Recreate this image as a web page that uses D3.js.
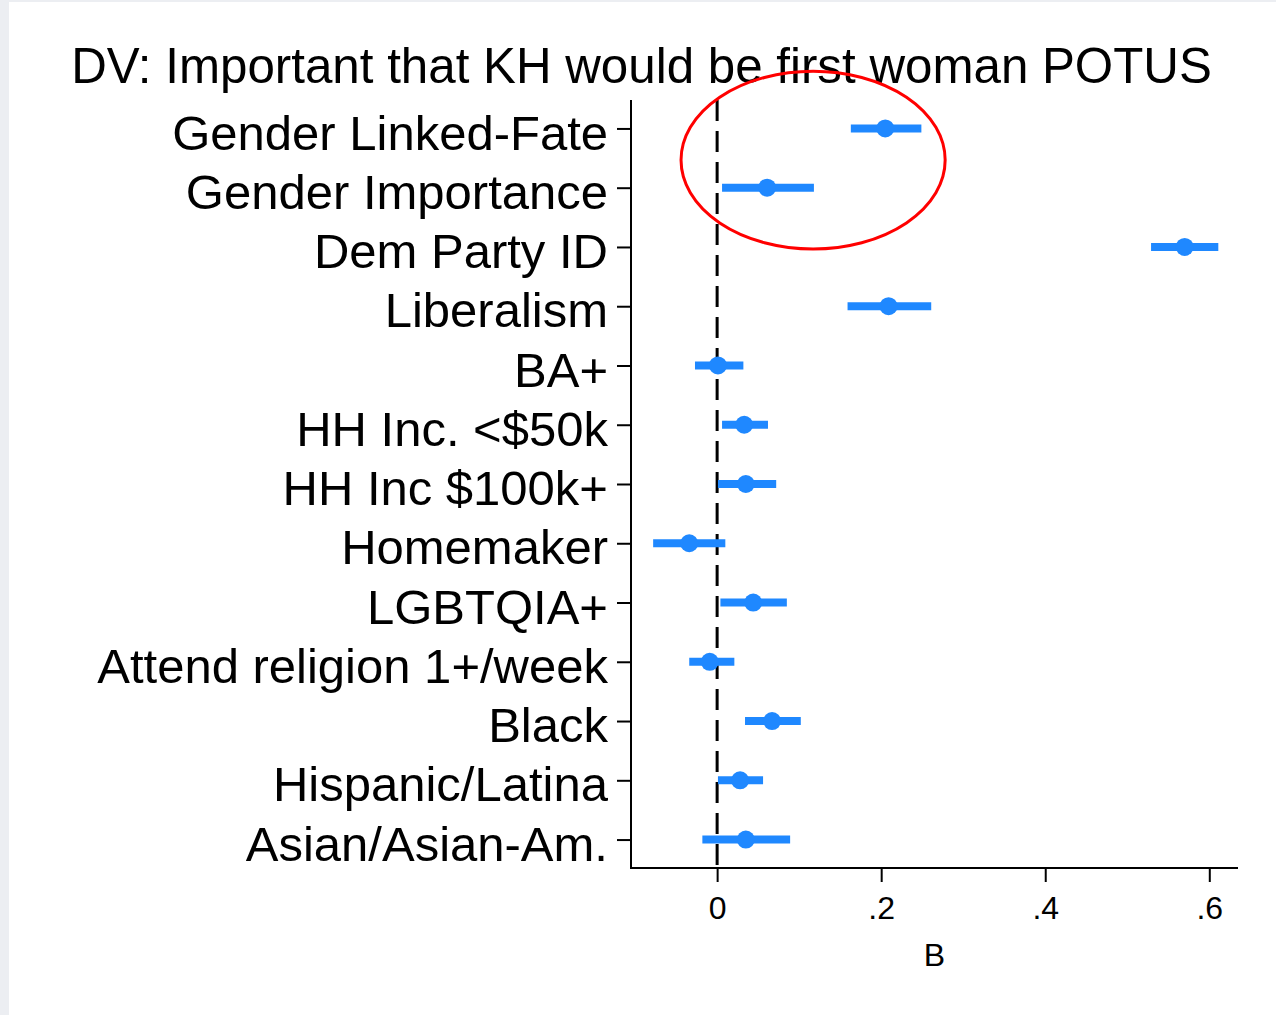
<!DOCTYPE html>
<html>
<head>
<meta charset="utf-8">
<script src="https://cdn.jsdelivr.net/npm/d3@7"></script>
<style>
  html, body { margin: 0; padding: 0; background: #eceef2; }
  #chart { position: absolute; left: 9px; top: 2px; width: 1267px; height: 1013px; background: #fff; }
  svg { position: absolute; left: -9px; top: -2px; }
  text { font-family: "Liberation Sans", Arial, Helvetica, sans-serif; fill: #000; }
</style>
</head>
<body>
<div id="chart"></div>
<script>
// coefficient estimates and 95% CIs, top to bottom
var categories = ["Gender Linked-Fate", "Gender Importance", "Dem Party ID", "Liberalism", "BA+",
  "HH Inc. <$50k", "HH Inc $100k+", "Homemaker", "LGBTQIA+", "Attend religion 1+/week",
  "Black", "Hispanic/Latina", "Asian/Asian-Am."];
var estimates = [0.205, 0.061, 0.570, 0.209, 0.001, 0.033, 0.035, -0.034, 0.044, -0.009, 0.067, 0.028, 0.035];
var ciLow  = [0.163, 0.006, 0.529, 0.159, -0.027, 0.006, 0.001, -0.078, 0.004, -0.034, 0.034, 0.001, -0.018];
var ciHigh = [0.249, 0.118, 0.611, 0.261, 0.032, 0.062, 0.072, 0.010, 0.085, 0.021, 0.102, 0.056, 0.089];
var xTicks = [0, 0.2, 0.4, 0.6];
var xTickLabels = ["0", ".2", ".4", ".6"];

var titleText = "DV: Important that KH would be first woman POTUS";
var xTitle = "B";

var data = categories.map(function(c, i) {
  return { name: c, b: estimates[i], lo: ciLow[i], hi: ciHigh[i] };
});

var W = 1276, H = 1015;
var plot = { left: 631, right: 1238, top: 100, bottom: 868 };
var blue = "#1f88ff";

var svg = d3.select("#chart").append("svg")
    .attr("width", W)
    .attr("height", H);

var x = d3.scaleLinear()
    .domain([-0.105, 0.635])
    .range([plot.left, plot.right]);

var y = d3.scalePoint()
    .domain(categories)
    .range([plot.top, plot.bottom])
    .padding(0.48);

// Title
svg.append("text")
    .attr("x", 641.5)
    .attr("y", 83)
    .attr("text-anchor", "middle")
    .attr("font-size", "49.3px")
    .text(titleText);

// Y axis
var yAxis = svg.append("g")
    .attr("transform", "translate(" + plot.left + ",0)")
    .call(d3.axisLeft(y).tickSize(14).tickPadding(9));
yAxis.select(".domain").remove();
yAxis.selectAll(".tick line").attr("stroke", "#000").attr("stroke-width", 2);
yAxis.selectAll(".tick text")
    .attr("font-size", "49px")
    .attr("font-family", "Liberation Sans, Arial, sans-serif")
    .attr("dy", "0.42em");
svg.append("line")
    .attr("x1", plot.left).attr("x2", plot.left)
    .attr("y1", plot.top).attr("y2", plot.bottom + 1)
    .attr("stroke", "#000").attr("stroke-width", 2);

// X axis
var xAxis = svg.append("g")
    .attr("transform", "translate(0," + plot.bottom + ")")
    .call(d3.axisBottom(x).tickValues(xTicks)
      .tickFormat(function(d, i) { return xTickLabels[i]; })
      .tickSize(14).tickPadding(14));
xAxis.select(".domain").remove();
xAxis.selectAll(".tick line").attr("stroke", "#000").attr("stroke-width", 2);
xAxis.selectAll(".tick text")
    .attr("font-size", "32px")
    .attr("font-family", "Liberation Sans, Arial, sans-serif");
svg.append("line")
    .attr("x1", plot.left - 1).attr("x2", plot.right)
    .attr("y1", plot.bottom).attr("y2", plot.bottom)
    .attr("stroke", "#000").attr("stroke-width", 2);

svg.append("text")
    .attr("x", (plot.left + plot.right) / 2)
    .attr("y", 966)
    .attr("text-anchor", "middle")
    .attr("font-size", "32px")
    .text(xTitle);

// Zero reference line
svg.append("line")
    .attr("x1", x(0)).attr("x2", x(0))
    .attr("y1", plot.top).attr("y2", plot.bottom)
    .attr("stroke", "#000")
    .attr("stroke-width", 3)
    .attr("stroke-dasharray", "21,10");

// CI bars
svg.selectAll(".ci")
    .data(data)
  .enter().append("line")
    .attr("class", "ci")
    .attr("x1", function(d) { return x(d.lo); })
    .attr("x2", function(d) { return x(d.hi); })
    .attr("y1", function(d) { return y(d.name); })
    .attr("y2", function(d) { return y(d.name); })
    .attr("stroke", blue)
    .attr("stroke-width", 8);

// Point estimates
svg.selectAll(".pt")
    .data(data)
  .enter().append("circle")
    .attr("class", "pt")
    .attr("cx", function(d) { return x(d.b); })
    .attr("cy", function(d) { return y(d.name); })
    .attr("r", 9)
    .attr("fill", blue);

// Red annotation around the two gender rows
var ringCx = 0.117, ringRx = 0.161;
var y0 = y(categories[0]), y1 = y(categories[1]);
svg.append("ellipse")
    .attr("cx", x(ringCx))
    .attr("cy", (y0 + y1) / 2 + 2)
    .attr("rx", x(ringRx) - x(0))
    .attr("ry", (y1 - y0) * 1.5)
    .attr("fill", "none")
    .attr("stroke", "#ff0000")
    .attr("stroke-width", 3);
</script>
</body>
</html>
